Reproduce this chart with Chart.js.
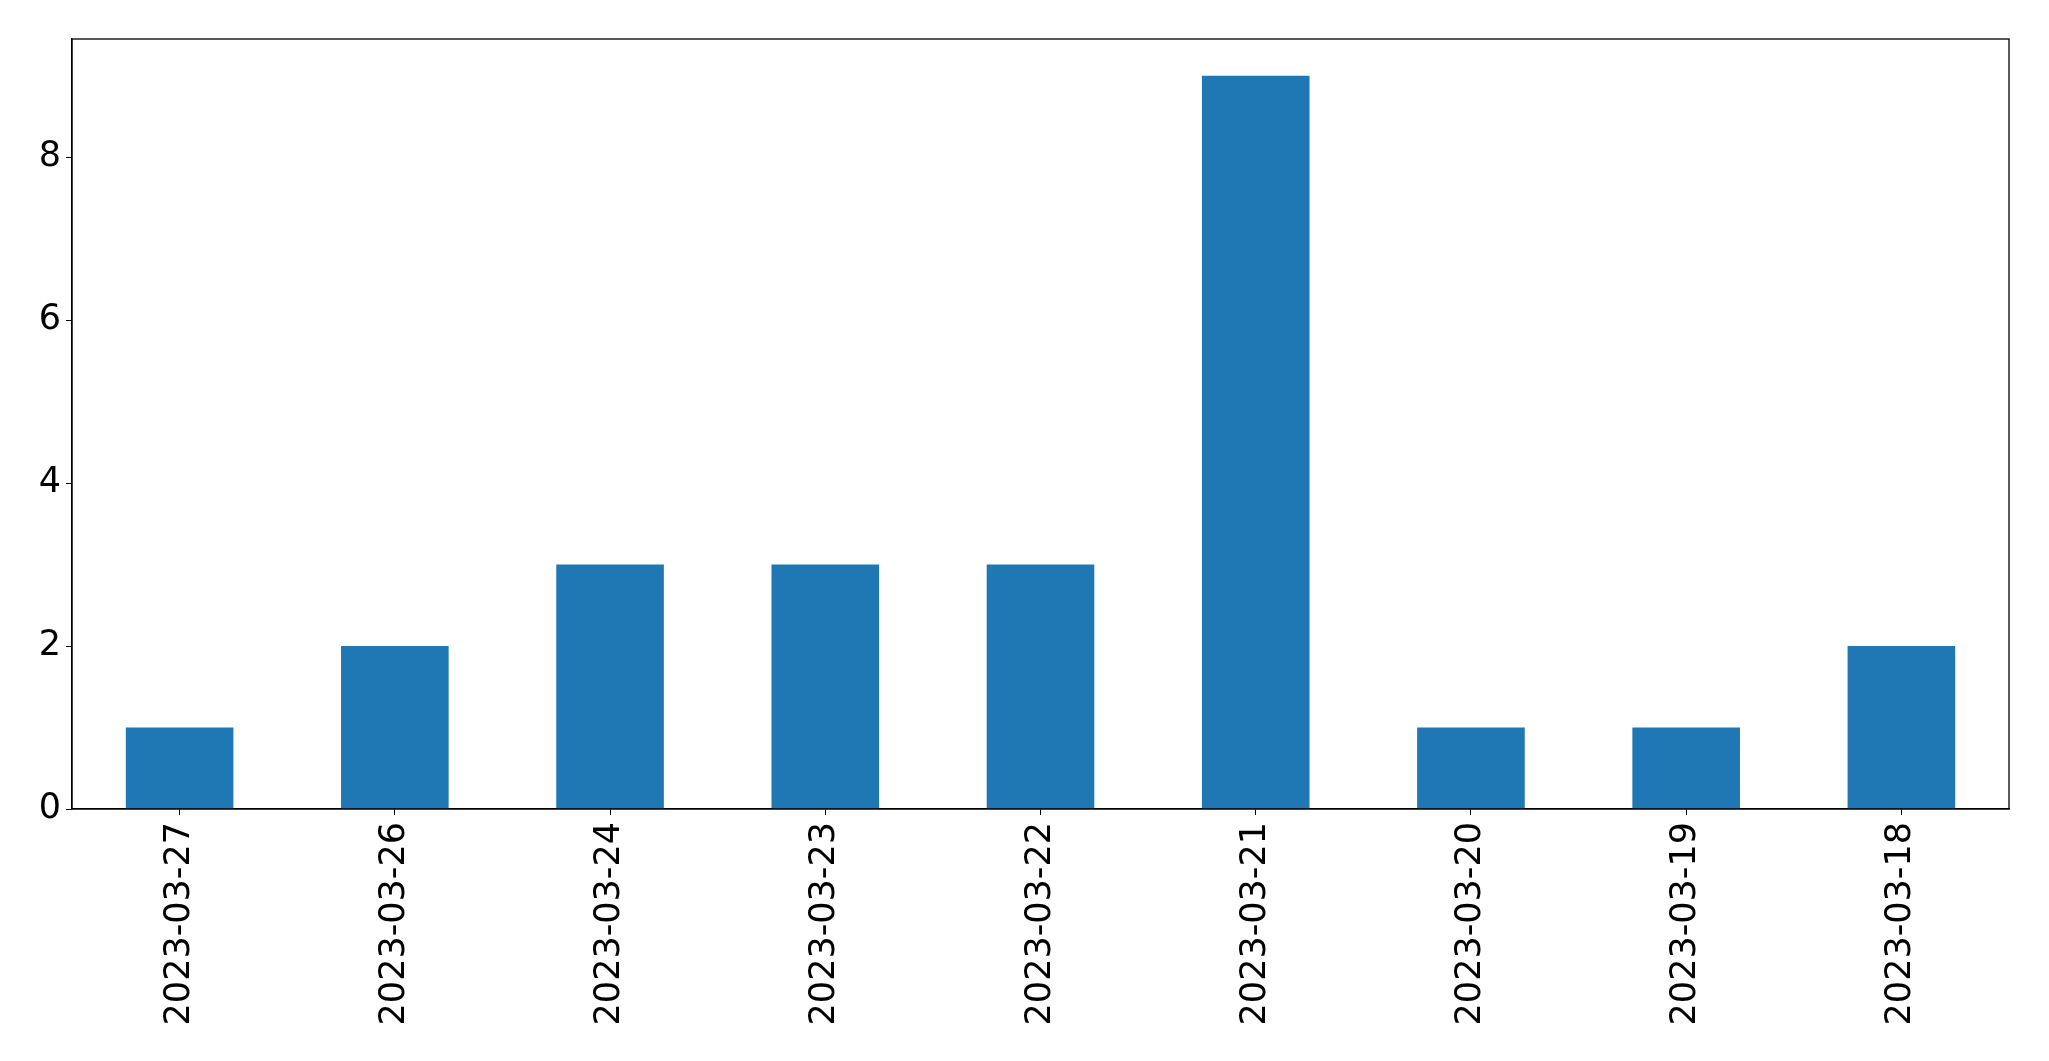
<!DOCTYPE html>
<html><head><meta charset="utf-8">
<script src="https://cdn.jsdelivr.net/npm/chart.js@4/dist/chart.umd.min.js"></script>
<style>html,body{margin:0;padding:0;background:#fff}#wrap{width:2049px;height:1061px}</style>
</head><body><div id="wrap"><canvas id="c" width="2049" height="1061"></canvas></div>
<script>
const categories = ["2023-03-27","2023-03-26","2023-03-24","2023-03-23","2023-03-22","2023-03-21","2023-03-20","2023-03-19","2023-03-18"];
const counts = [1,2,3,3,3,9,1,1,2];
const yTicks = [0,2,4,6,8];
const yMax = 9.45;

const frame = {id:'frame', afterDraw(chart){const a=chart.chartArea,ctx=chart.ctx;ctx.save();ctx.strokeStyle='#000';ctx.lineWidth=1.3;ctx.strokeRect(a.left,a.top,a.right-a.left,a.bottom-a.top);ctx.restore();}};

new Chart(document.getElementById('c'), {
  type:'bar',
  data:{labels:categories, datasets:[{data:counts, backgroundColor:'#1f77b4', borderWidth:0, categoryPercentage:1, barPercentage:0.5}]},
  options:{
    responsive:false, animation:false,
    layout:{padding:{top:39,right:40,left:0,bottom:0}},
    plugins:{legend:{display:false},tooltip:{enabled:false}},
    scales:{
      x:{
        grid:{display:true,drawOnChartArea:false,drawTicks:true,tickLength:6,color:'#000',offset:false},
        border:{display:true,color:'#000',width:1.3},
        ticks:{color:'#000',font:{family:'DejaVu Sans',size:35},maxRotation:90,minRotation:90,padding:7,autoSkip:false},
        afterFit(s){s.height=252;}
      },
      y:{
        min:0,max:yMax,
        grid:{display:true,drawOnChartArea:false,drawTicks:true,tickLength:6,color:'#000'},
        border:{display:true,color:'#000',width:1.3},
        ticks:{color:'#000',font:{family:'DejaVu Sans',size:35},padding:5},
        afterBuildTicks(s){s.ticks=yTicks.map(v=>({value:v}));},
        afterFit(s){s.width=72;}
      }
    }
  },
  plugins:[frame]
});
</script></body></html>
